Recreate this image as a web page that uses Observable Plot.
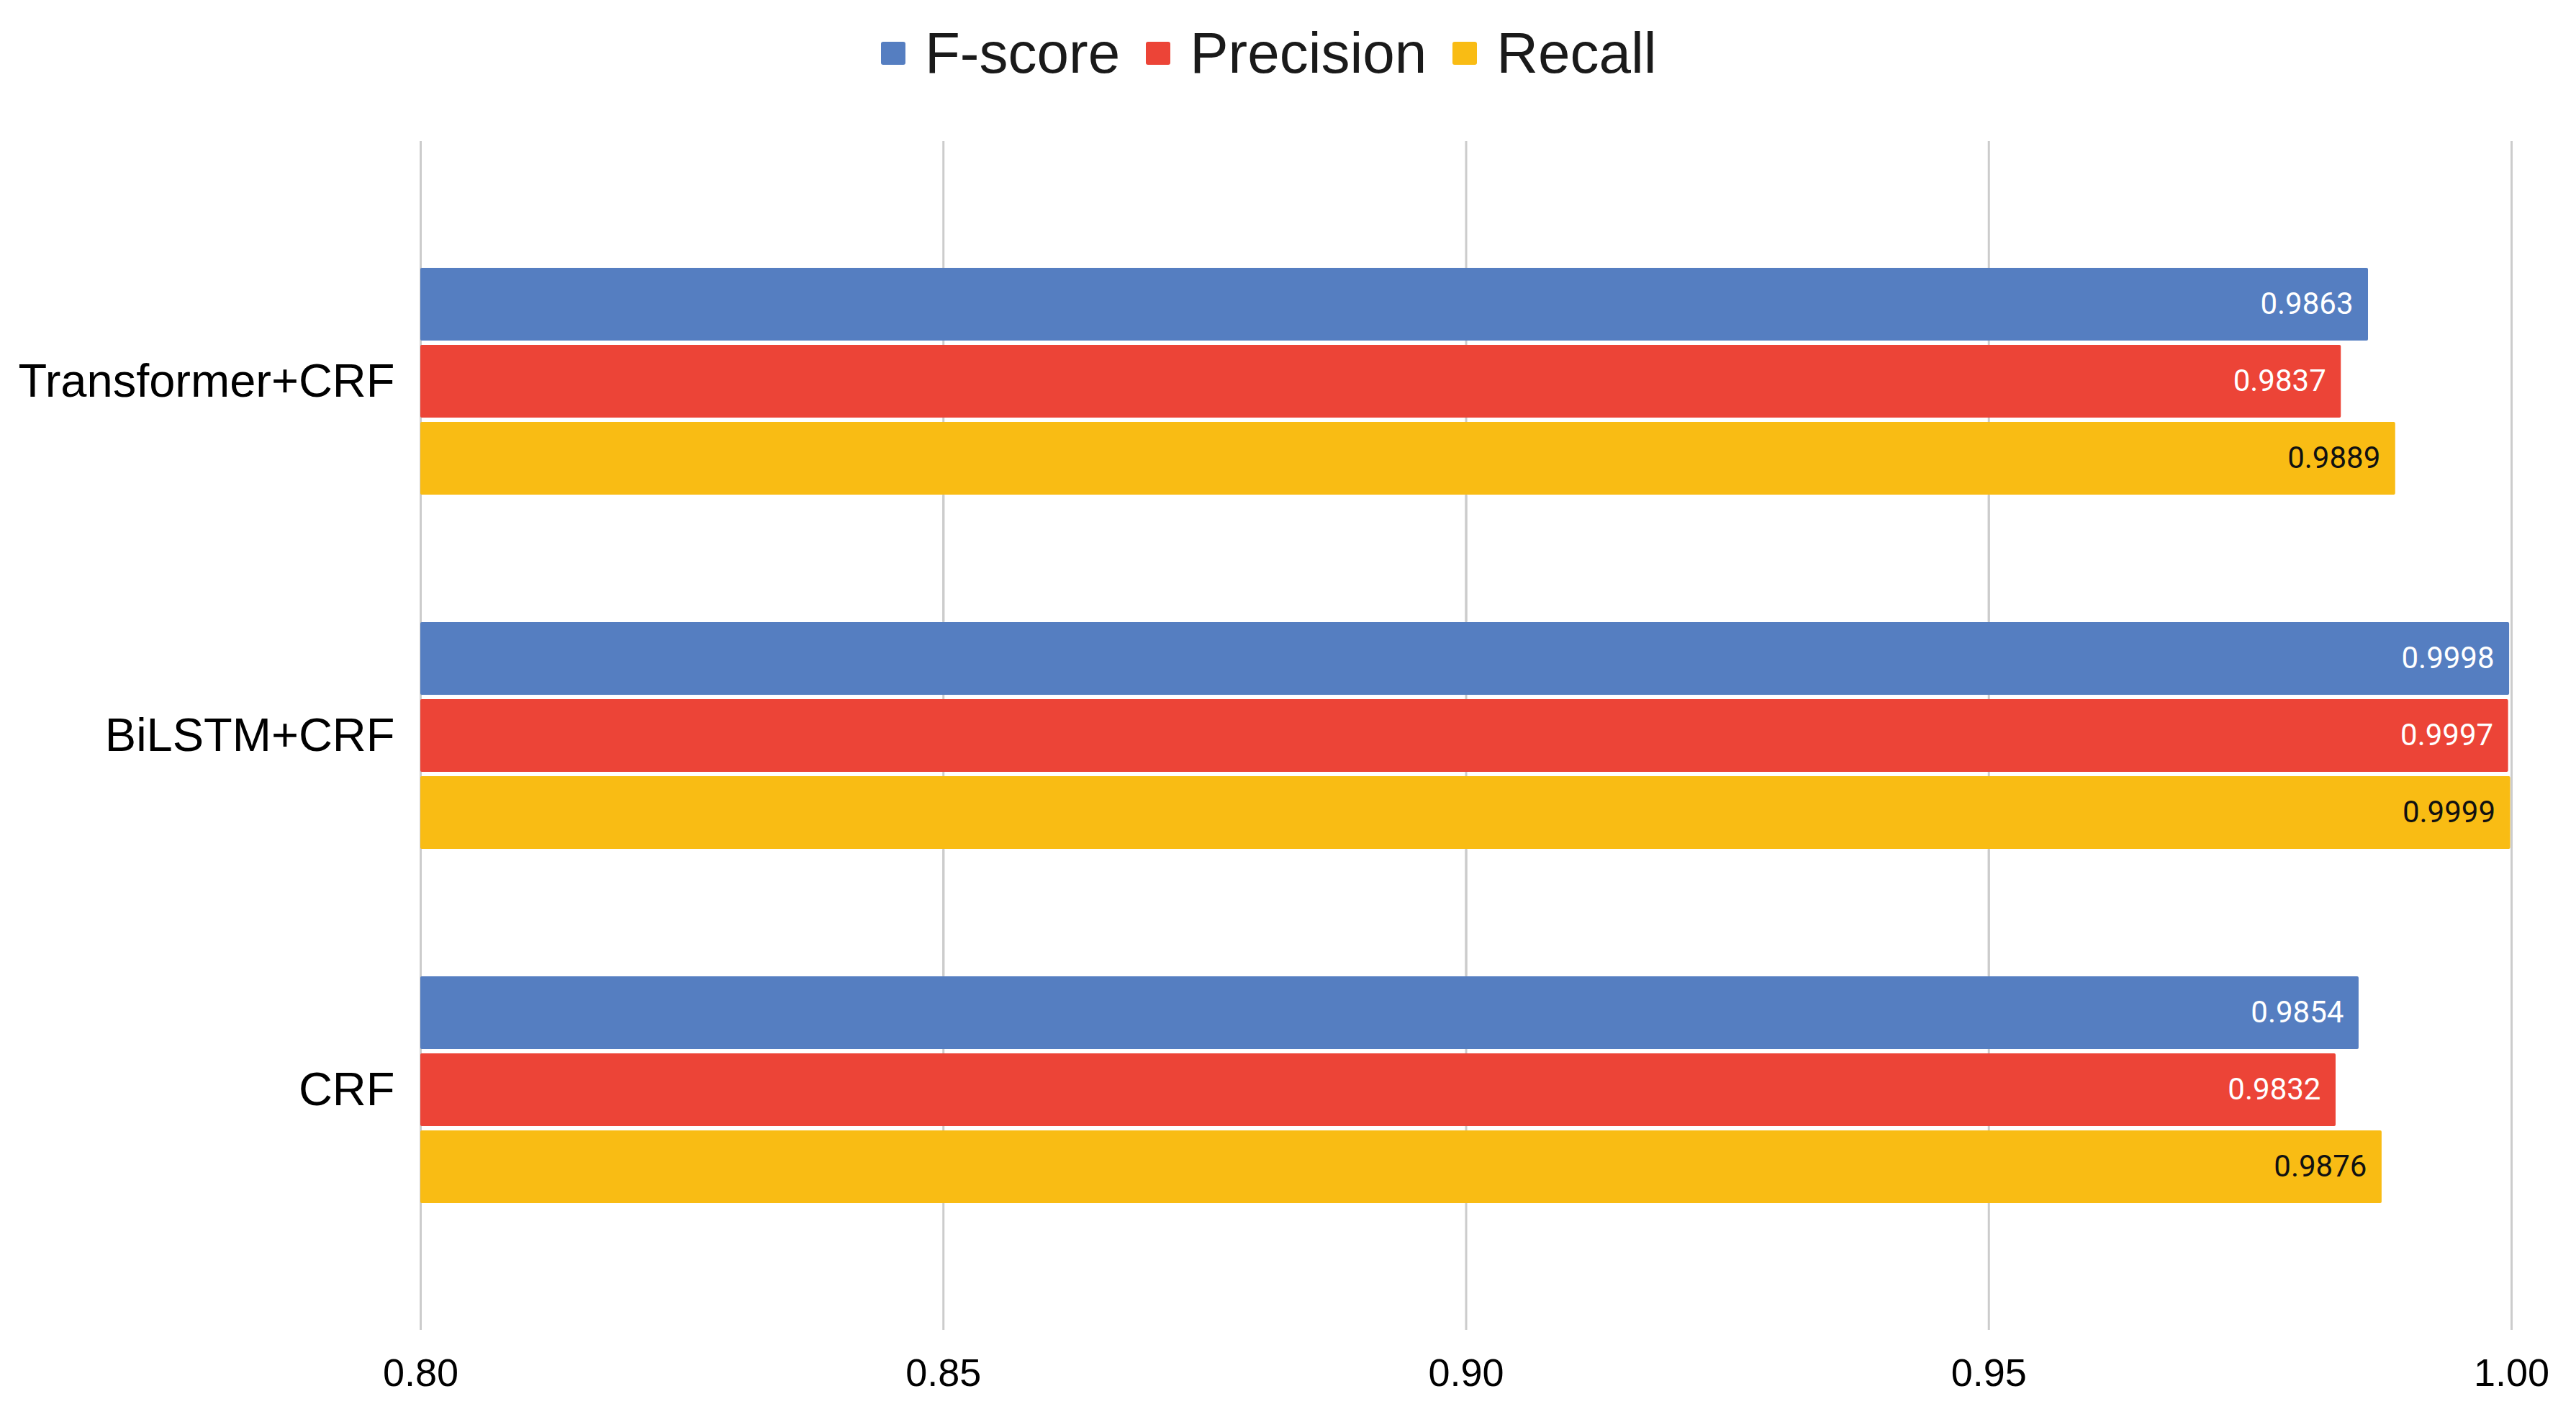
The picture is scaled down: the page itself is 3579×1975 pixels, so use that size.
<!DOCTYPE html>
<html>
<head>
<meta charset="utf-8">
<script src="https://cdn.jsdelivr.net/npm/d3@7"></script>
<script src="https://cdn.jsdelivr.net/npm/@observablehq/plot@0.6"></script>
<style>
  html, body { margin: 0; padding: 0; background: #fff; }
  body { width: 3579px; height: 1975px; overflow: hidden; font-family: "Liberation Sans", Arial, sans-serif; }
  #legend { height: 148px; line-height: 148px; font-size: 80px; color: #1a1a1a; white-space: nowrap; padding-left: 1224px; }
  #legend .item { display: inline-block; vertical-align: top; }
  #legend .sw { display: inline-block; width: 34px; height: 32px; border-radius: 3px; vertical-align: top; margin-top: 58px; margin-right: 27px; }
  #legend .item + .item { margin-left: 36px; }
  svg { display: block; }
</style>
</head>
<body>
<div id="legend"></div>
<div id="chart"></div>
<script>
const models = ["Transformer+CRF", "BiLSTM+CRF", "CRF"];
const metrics = ["F-score", "Precision", "Recall"];
const fscore = [0.9863, 0.9998, 0.9854];
const precision = [0.9837, 0.9997, 0.9832];
const recall = [0.9889, 0.9999, 0.9876];
const xTicks = [0.80, 0.85, 0.90, 0.95, 1.00];
const colors = ["#557EC1", "#EC4437", "#F9BC14"];

const series = [fscore, precision, recall];
const data = [];
models.forEach((m, i) => metrics.forEach((k, j) => data.push({model: m, metric: k, value: series[j][i]})));

// legend
const legend = document.getElementById("legend");
metrics.forEach((k, j) => {
  const it = document.createElement("span");
  it.className = "item";
  const sw = document.createElement("span");
  sw.className = "sw";
  sw.style.background = colors[j];
  it.appendChild(sw);
  it.appendChild(document.createTextNode(k));
  legend.appendChild(it);
});

const groupGap = 175; // white space above/between/below the model groups

const chart = Plot.plot({
  width: 3579,
  height: 1827,
  marginTop: 48,
  marginBottom: 128,
  marginLeft: 584,
  marginRight: 90,
  style: {fontFamily: "'Liberation Sans', Arial, sans-serif", color: "#000", background: "#fff"},
  x: {domain: [0.8, 1.0], clamp: true, axis: null},
  y: {domain: metrics, paddingInner: 0.056, paddingOuter: 0, axis: null},
  fy: {domain: models, paddingInner: 0.355, paddingOuter: 0.353, label: null},
  color: {domain: metrics, range: colors},
  marks: [
    Plot.ruleX(xTicks, {x: d => d, stroke: "#cccccc", strokeWidth: 3, insetTop: -groupGap, insetBottom: -groupGap}),
    Plot.barX(data, {fy: "model", y: "metric", x: "value", fill: "metric", rx: 2}),
    Plot.text(data, {
      filter: d => d.metric !== "Recall",
      fy: "model", y: "metric", x: "value",
      text: d => d.value.toFixed(4),
      textAnchor: "end", dx: -21, fill: "#ffffff",
      fontSize: 42, fontFamily: "Roboto, sans-serif"
    }),
    Plot.text(data, {
      filter: d => d.metric === "Recall",
      fy: "model", y: "metric", x: "value",
      text: d => d.value.toFixed(4),
      textAnchor: "end", dx: -21, fill: "#111111",
      fontSize: 42, fontFamily: "Roboto, sans-serif"
    }),
    Plot.axisFy({anchor: "left", tickSize: 0, tickPadding: 36, fontSize: 65, label: null}),
    Plot.axisX(xTicks, {anchor: "bottom", tickSize: 0, tickPadding: 39 + groupGap, fontSize: 54, tickFormat: d => d.toFixed(2), label: null})
  ]
});
document.getElementById("chart").appendChild(chart);
</script>
</body>
</html>
